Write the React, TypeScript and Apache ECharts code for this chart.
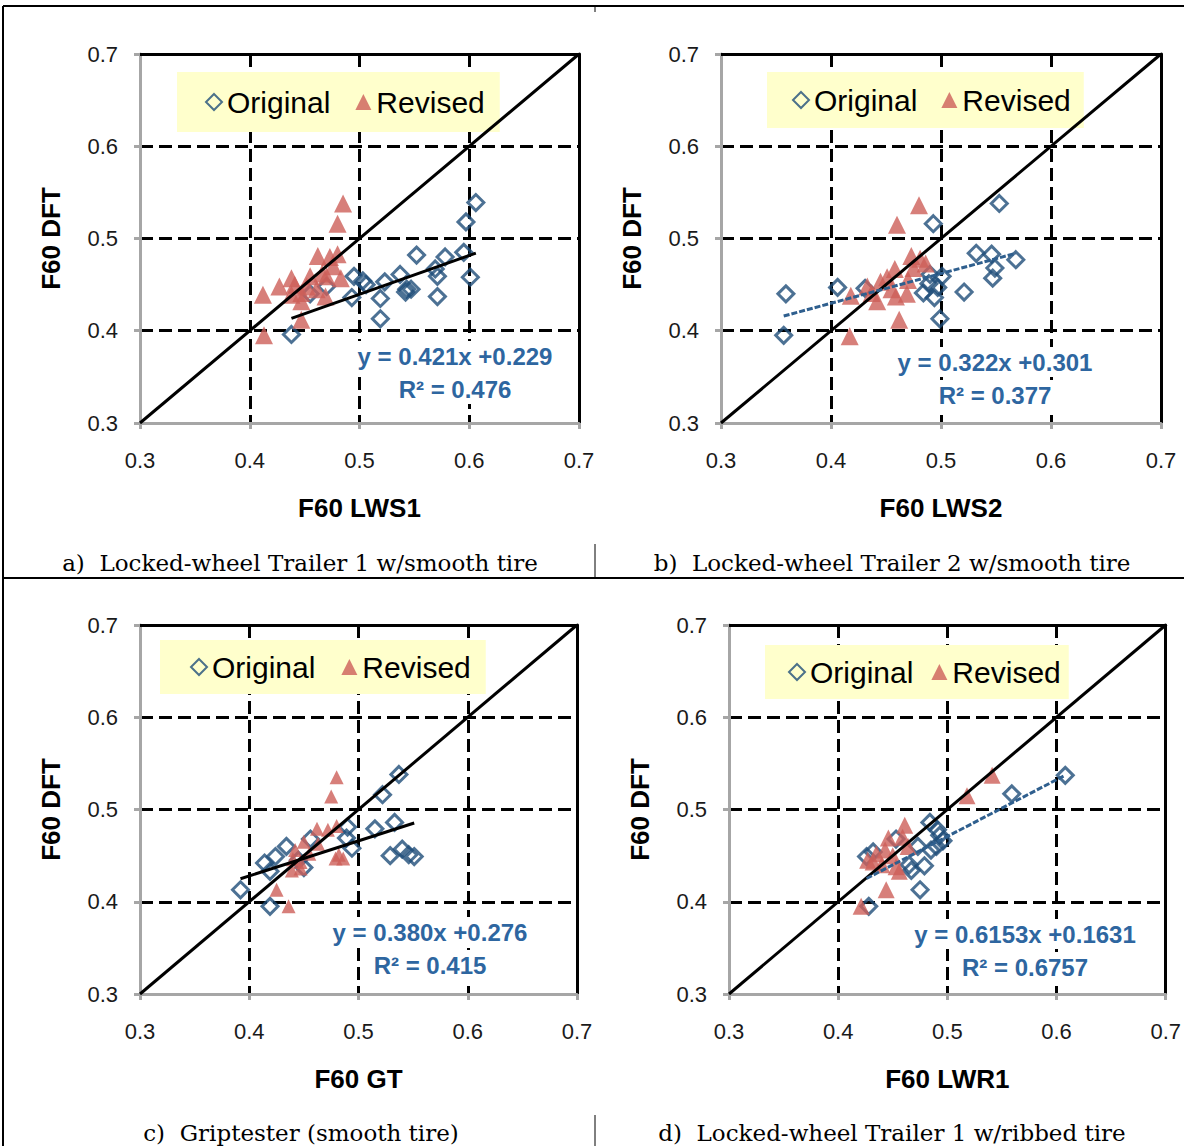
import React, { useEffect, useRef } from 'react';
import * as echarts from 'echarts';

// ---------- data ----------
const X_TITLES = ['F60 LWS1', 'F60 LWS2', 'F60 GT', 'F60 LWR1'];
const Y_TITLE = 'F60 DFT';
const CAPTIONS = [
  'a)  Locked-wheel Trailer 1 w/smooth tire',
  'b)  Locked-wheel Trailer 2 w/smooth tire',
  'c)  Griptester (smooth tire)',
  'd)  Locked-wheel Trailer 1 w/ribbed tire',
];
const SLOPES = [0.421, 0.322, 0.38, 0.6153];
const INTERCEPTS = [0.229, 0.301, 0.276, 0.1631];
const EQ_LABELS = ['y = 0.421x +0.229', 'y = 0.322x +0.301', 'y = 0.380x +0.276', 'y = 0.6153x +0.1631'];
const R2_LABELS = ['R² = 0.476', 'R² = 0.377', 'R² = 0.415', 'R² = 0.6757'];

const ORIGINAL_A = [
  [0.606, 0.539], [0.597, 0.518], [0.552, 0.482], [0.578, 0.48], [0.595, 0.485], [0.601, 0.458],
  [0.569, 0.467], [0.571, 0.459], [0.571, 0.437], [0.537, 0.461], [0.543, 0.445], [0.547, 0.445],
  [0.542, 0.442], [0.523, 0.453], [0.519, 0.435], [0.519, 0.413], [0.495, 0.459], [0.503, 0.454],
  [0.506, 0.45], [0.493, 0.436], [0.47, 0.448], [0.438, 0.396], [0.455, 0.44],
];
const REVISED_A = [
  [0.485, 0.538], [0.48, 0.516], [0.462, 0.481], [0.473, 0.48], [0.48, 0.483], [0.455, 0.459],
  [0.438, 0.457], [0.427, 0.448], [0.412, 0.439], [0.483, 0.457], [0.47, 0.459], [0.461, 0.445],
  [0.447, 0.441], [0.469, 0.437], [0.447, 0.432], [0.438, 0.439], [0.447, 0.412], [0.413, 0.395],
  [0.466, 0.462], [0.452, 0.448], [0.476, 0.47], [0.441, 0.45],
];
const ORIGINAL_B = [
  [0.553, 0.538], [0.493, 0.516], [0.532, 0.484], [0.546, 0.483], [0.568, 0.477], [0.549, 0.468],
  [0.547, 0.457], [0.521, 0.442], [0.501, 0.459], [0.489, 0.451], [0.484, 0.441], [0.494, 0.436],
  [0.499, 0.413], [0.406, 0.447], [0.359, 0.44], [0.357, 0.395], [0.431, 0.446], [0.49, 0.461],
  [0.497, 0.447],
];
const REVISED_B = [
  [0.48, 0.536], [0.46, 0.515], [0.473, 0.481], [0.481, 0.478], [0.486, 0.473], [0.475, 0.468],
  [0.458, 0.467], [0.451, 0.458], [0.445, 0.453], [0.433, 0.448], [0.418, 0.438], [0.442, 0.432],
  [0.459, 0.437], [0.469, 0.44], [0.462, 0.412], [0.417, 0.394], [0.47, 0.455], [0.455, 0.445],
  [0.437, 0.441],
];
const ORIGINAL_C = [
  [0.537, 0.538], [0.522, 0.516], [0.515, 0.479], [0.533, 0.486], [0.49, 0.481], [0.489, 0.469],
  [0.494, 0.458], [0.54, 0.457], [0.529, 0.45], [0.546, 0.451], [0.551, 0.449], [0.456, 0.468],
  [0.45, 0.437], [0.434, 0.46], [0.424, 0.449], [0.414, 0.442], [0.419, 0.433], [0.392, 0.413],
  [0.419, 0.395], [0.445, 0.445],
];
const REVISED_C = [
  [0.48, 0.535], [0.475, 0.514], [0.462, 0.479], [0.472, 0.478], [0.48, 0.482], [0.45, 0.465],
  [0.442, 0.456], [0.482, 0.451], [0.486, 0.447], [0.479, 0.447], [0.463, 0.463], [0.439, 0.434],
  [0.447, 0.436], [0.425, 0.413], [0.436, 0.395], [0.44, 0.446], [0.455, 0.452], [0.447, 0.443],
];
const ORIGINAL_D = [
  [0.608, 0.537], [0.559, 0.517], [0.484, 0.486], [0.491, 0.478], [0.493, 0.472], [0.496, 0.466],
  [0.49, 0.46], [0.485, 0.456], [0.473, 0.46], [0.479, 0.439], [0.467, 0.434], [0.465, 0.44],
  [0.475, 0.413], [0.428, 0.395], [0.426, 0.449], [0.432, 0.454], [0.453, 0.468],
];
const REVISED_D = [
  [0.541, 0.537], [0.518, 0.515], [0.461, 0.483], [0.459, 0.47], [0.446, 0.469], [0.443, 0.456],
  [0.435, 0.452], [0.427, 0.445], [0.453, 0.438], [0.456, 0.433], [0.444, 0.413], [0.421, 0.395],
  [0.464, 0.46], [0.44, 0.44], [0.45, 0.45], [0.432, 0.443],
];

const ORIGINALS = [ORIGINAL_A, ORIGINAL_B, ORIGINAL_C, ORIGINAL_D];
const REVISEDS = [REVISED_A, REVISED_B, REVISED_C, REVISED_D];

// ---------- layout / style ----------
const GRIDS = [
  { left: 140, top: 54, width: 439, height: 369 },
  { left: 721, top: 54, width: 440, height: 369 },
  { left: 140, top: 625, width: 437, height: 369 },
  { left: 729, top: 625, width: 438, height: 369 },
];
const LEGENDS = [
  { left: 177, top: 72, padding: [15, 15, 15, 28], gap: 25 },
  { left: 767, top: 72, padding: [13, 13, 13, 25], gap: 24 },
  { left: 160, top: 640, padding: [12, 15, 12, 30], gap: 26 },
  { left: 765, top: 645, padding: [12, 8, 12, 23], gap: 18 },
];
const EQ_POS = [
  [455, 356], [995, 362], [430, 932], [1025, 934],
];
const CAPTION_POS = [
  [300, 563], [892, 563], [301, 1133], [892, 1133],
];
const TREND_STYLE = [
  { color: '#000', type: 'solid' },
  { color: '#2F5F8E', type: [6, 2] },
  { color: '#000', type: 'solid' },
  { color: '#2F5F8E', type: [6, 2] },
];
const TRI_SIZE = [18, 18, 14, 17];

const FONT = "'Liberation Sans', Arial, sans-serif";
const GREY = '#A6A6A6';
const BLUE = '#1F4E79';
const RED = '#CD5F59';
const EQ_BLUE = '#2E66A0';

function buildOption() {
  const grid: any[] = [];
  const xAxis: any[] = [];
  const yAxis: any[] = [];
  const series: any[] = [];
  const legend: any[] = [];
  const graphic: any[] = [];

  for (let i = 0; i < 4; i++) {
    grid.push({ ...GRIDS[i], containLabel: false });
    xAxis.push({
      gridIndex: i,
      type: 'value',
      min: 0.3,
      max: 0.7,
      interval: 0.1,
      position: 'bottom',
      name: X_TITLES[i],
      nameLocation: 'middle',
      nameGap: 72,
      nameTextStyle: { fontFamily: FONT, fontWeight: 'bold', fontSize: 26, color: '#000' },
      axisLine: { show: true, onZero: false, lineStyle: { color: GREY, width: 3 } },
      axisTick: { show: true, length: 6, lineStyle: { color: GREY, width: 3 } },
      axisLabel: { fontFamily: FONT, fontSize: 22, color: '#1a1a1a', margin: 26, formatter: (v: number) => v.toFixed(1) },
      splitLine: { show: true, lineStyle: { color: '#000', width: 3, type: [13, 6] } },
    });
    xAxis.push({
      gridIndex: i, type: 'value', min: 0.3, max: 0.7, position: 'top',
      axisLine: { show: true, onZero: false, lineStyle: { color: '#000', width: 3 } },
      axisTick: { show: false }, axisLabel: { show: false }, splitLine: { show: false },
    });
    yAxis.push({
      gridIndex: i,
      type: 'value',
      min: 0.3,
      max: 0.7,
      interval: 0.1,
      position: 'left',
      name: Y_TITLE,
      nameLocation: 'middle',
      nameGap: 76,
      nameTextStyle: { fontFamily: FONT, fontWeight: 'bold', fontSize: 26, color: '#000' },
      axisLine: { show: true, onZero: false, lineStyle: { color: GREY, width: 3 } },
      axisTick: { show: true, length: 6, lineStyle: { color: GREY, width: 3 } },
      axisLabel: { fontFamily: FONT, fontSize: 22, color: '#1a1a1a', margin: 22, formatter: (v: number) => v.toFixed(1) },
      splitLine: { show: true, lineStyle: { color: '#000', width: 3, type: [13, 6] } },
    });
    yAxis.push({
      gridIndex: i, type: 'value', min: 0.3, max: 0.7, position: 'right',
      axisLine: { show: true, onZero: false, lineStyle: { color: '#000', width: 3 } },
      axisTick: { show: false }, axisLabel: { show: false }, splitLine: { show: false },
    });

    const orig = ORIGINALS[i];
    const xs = orig.map((p) => p[0]);
    const xmin = Math.min(...xs);
    const xmax = Math.max(...xs);

    series.push({
      name: 'Original',
      type: 'scatter',
      xAxisIndex: 2 * i,
      yAxisIndex: 2 * i,
      data: orig,
      symbol: 'diamond',
      symbolSize: 16,
      itemStyle: { color: 'rgba(255,255,255,0)', borderColor: BLUE, borderWidth: 3 },
      z: 2,
    });
    series.push({
      name: 'Revised',
      type: 'scatter',
      xAxisIndex: 2 * i,
      yAxisIndex: 2 * i,
      data: REVISEDS[i],
      symbol: 'triangle',
      symbolSize: TRI_SIZE[i],
      itemStyle: { color: RED },
      z: 3,
    });
    series.push({
      type: 'line',
      xAxisIndex: 2 * i,
      yAxisIndex: 2 * i,
      data: [[0.3, 0.3], [0.7, 0.7]],
      symbol: 'none',
      lineStyle: { color: '#000', width: 3 },
      z: 4,
      silent: true,
    });
    series.push({
      type: 'line',
      xAxisIndex: 2 * i,
      yAxisIndex: 2 * i,
      data: [
        [xmin, SLOPES[i] * xmin + INTERCEPTS[i]],
        [xmax, SLOPES[i] * xmax + INTERCEPTS[i]],
      ],
      symbol: 'none',
      lineStyle: { color: TREND_STYLE[i].color, width: 3, type: TREND_STYLE[i].type },
      z: 5,
      silent: true,
    });

    legend.push({
      data: ['Original', 'Revised'],
      left: LEGENDS[i].left,
      top: LEGENDS[i].top,
      padding: LEGENDS[i].padding,
      backgroundColor: '#FFFFCC',
      itemGap: LEGENDS[i].gap,
      itemWidth: 16,
      itemHeight: 16,
      selectedMode: false,
      textStyle: { fontFamily: FONT, fontSize: 30, color: '#000' },
    });

    const eqStyle = {
      font: "bold 24px 'Liberation Sans', Arial, sans-serif",
      fill: EQ_BLUE,
      textAlign: 'center',
      textVerticalAlign: 'middle',
      backgroundColor: '#fff',
      padding: [3, 4],
    };
    graphic.push({
      type: 'text',
      z: 100,
      x: EQ_POS[i][0],
      y: EQ_POS[i][1],
      style: { ...eqStyle, text: EQ_LABELS[i] },
    });
    graphic.push({
      type: 'text',
      z: 100,
      x: EQ_POS[i][0],
      y: EQ_POS[i][1] + 33,
      style: { ...eqStyle, text: R2_LABELS[i] },
    });
    graphic.push({
      type: 'text',
      x: CAPTION_POS[i][0],
      y: CAPTION_POS[i][1],
      style: {
        text: CAPTIONS[i],
        font: "23px 'DejaVu Serif', serif",
        fill: '#000',
        textAlign: 'center',
        textVerticalAlign: 'middle',
      },
    });
  }

  // frame lines
  const frame = [
    [3, 6, 1184, 6, 2],
    [3, 6, 3, 1146, 2],
    [3, 578, 1184, 578, 2],
    [595, 6, 595, 12, 1],
    [595, 544, 595, 578, 1],
    [595, 1115, 595, 1146, 1],
  ];
  frame.forEach((f) => {
    graphic.push({
      type: 'line',
      shape: { x1: f[0], y1: f[1], x2: f[2], y2: f[3] },
      style: { stroke: '#000', lineWidth: f[4] },
      silent: true,
    });
  });

  return {
    animation: false,
    backgroundColor: '#fff',
    grid,
    xAxis,
    yAxis,
    series,
    legend,
    graphic,
  };
}

export default function App() {
  const ref = useRef<HTMLDivElement>(null);
  useEffect(() => {
    if (!ref.current) return;
    const chart = echarts.init(ref.current, null, { renderer: 'svg' });
    chart.setOption(buildOption() as any);
    return () => chart.dispose();
  }, []);
  return (
    <div
      ref={ref}
      style={{ position: 'absolute', left: 0, top: 0, width: 1184, height: 1146 }}
    />
  );
}
